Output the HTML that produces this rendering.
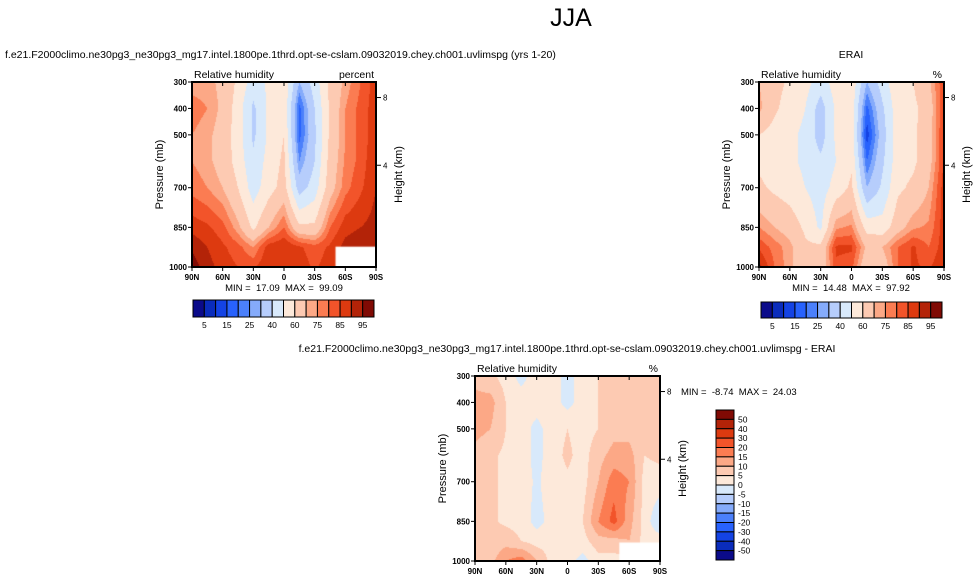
<!DOCTYPE html>
<html><head><meta charset="utf-8">
<style>
body{margin:0;background:#fff;width:979px;height:582px;overflow:hidden;font-family:"Liberation Sans",sans-serif;}
svg text{font-family:"Liberation Sans",sans-serif;fill:#000;white-space:pre;}
</style></head>
<body>
<svg id="s" width="979" height="582" xmlns="http://www.w3.org/2000/svg">
<text x="571" y="26" font-size="25" text-anchor="middle">JJA</text>
<text x="5" y="58" font-size="10.5">f.e21.F2000climo.ne30pg3_ne30pg3_mg17.intel.1800pe.1thrd.opt-se-cslam.09032019.chey.ch001.uvlimspg (yrs 1-20)</text>
<text x="851" y="58" font-size="10.5" text-anchor="middle">ERAI</text>
<text x="567" y="352" font-size="10.5" text-anchor="middle">f.e21.F2000climo.ne30pg3_ne30pg3_mg17.intel.1800pe.1thrd.opt-se-cslam.09032019.chey.ch001.uvlimspg - ERAI</text>
<g id="g"></g>
</svg>
<script>
const lats=['90N','60N','30N','0','30S','60S','90S'];
const plevTicks=[300,400,500,700,850,1000];
const levels=[300,400,500,600,700,850,925,1000];
const rhBounds=[5,10,15,20,25,30,40,50,60,70,75,80,85,90,95];
const rhLabels=['5','15','25','40','60','75','85','95'];
const diffBounds=[-50,-40,-30,-20,-15,-10,-5,0,5,10,15,20,30,40,50];
const diffLabels=['50','40','30','20','15','10','5','0','-5','-10','-15','-20','-30','-40','-50'];
const colors=['#0b0b8a','#0a2cbc','#1443e4','#2862fd','#4b80fb','#85abfb','#b6cdfc','#d8e9fb','#fde9da','#fdcab2','#fca886','#fb7c52','#f2542a','#dd3a10','#b32308','#800a04'];
const modelRH=[
[72,72,68,58,45,52,58,30,45,62,72,80,88],
[78,75,68,55,38,52,58,18,40,62,75,82,88],
[75,72,66,55,38,52,60,18,38,62,75,82,88],
[75,72,66,56,42,54,62,25,40,64,76,82,90],
[78,75,70,60,45,56,64,35,45,66,78,84,90],
[88,86,82,72,58,70,80,62,62,80,88,90,92],
[94,90,86,82,75,88,90,86,82,86,92,94,92],
[98,92,88,85,84,90,88,88,84,88,90,90,90]];
const eraiRH=[
[70,64,58,54,45,55,58,30,45,58,60,68,85],
[72,62,55,50,35,52,56,18,38,56,58,64,86],
[60,56,52,48,35,52,56,12,35,56,58,66,86],
[58,55,52,48,42,50,58,20,38,56,58,66,86],
[62,58,55,50,45,54,62,30,42,58,62,70,88],
[75,70,66,58,48,74,76,56,54,66,74,76,88],
[84,78,72,62,62,86,86,68,70,80,86,80,88],
[92,80,72,62,62,84,82,62,64,80,86,84,90]];
const diffRH=[
[8,6,3,-2,3,3,-2,3,5,8,8,5,8],
[12,12,5,3,3,3,-2,3,5,8,8,5,8],
[12,10,5,3,-2,3,5,3,5,8,8,5,8],
[8,6,4,3,-2,3,6,3,8,12,12,5,6],
[8,6,4,3,-1,3,4,3,10,18,15,3,3],
[8,6,4,3,-2,2,3,5,15,22,12,3,-5],
[5,6,8,5,3,3,3,3,8,8,10,3,3],
[5,8,15,18,10,3,2,-2,3,3,3,3,3]];
const NS='http://www.w3.org/2000/svg';
const G=document.getElementById('g');
function el(t,a,p){const e=document.createElementNS(NS,t);for(const k in a)e.setAttribute(k,a[k]);(p||G).appendChild(e);return e;}
function txt(x,y,s,fs,anchor,p){const e=el('text',{x:x,y:y,'font-size':fs,'text-anchor':anchor||'start'},p);e.textContent=s;return e;}
function interp(grid,fx,p){
  let j=0;while(j<levels.length-2&&p>levels[j+1])j++;
  const ty=Math.max(0,Math.min(1,(p-levels[j])/(levels[j+1]-levels[j])));
  const i=Math.min(11,Math.floor(fx*12));const tx=fx*12-i;
  const a=grid[j][i]*(1-tx)+grid[j][i+1]*tx,b=grid[j+1][i]*(1-tx)+grid[j+1][i+1]*tx;
  return a*(1-ty)+b*ty;}
function bin(v,b){let k=0;while(k<b.length&&v>=b[k])k++;return k;}
function panel(name,x0,y0,w,h,grid,bounds,unit,mask){
  const g=el('g',{});
  
  
  const xs=v=>x0+v*w, ys=p=>y0+(p-300)/700*h;
  const fo=el('foreignObject',{x:x0,y:y0,width:w,height:h},g);
  const c=document.createElement('canvas');c.width=w;c.height=h;fo.appendChild(c);
  
  
  const ctx=c.getContext('2d');
  for(let px=0;px<w;px+=1)for(let py=0;py<h;py+=1){
    const v=interp(grid,(px+0.5)/w,300+(py+0.5)/h*700);
    ctx.fillStyle=colors[bin(v,bounds)];ctx.fillRect(px,py,1,1);}
  if(mask){ctx.fillStyle='#fff';ctx.fillRect(mask[0]*w,mask[1]*h,w-mask[0]*w,h-mask[1]*h);}
  el('rect',{x:x0,y:y0,width:w,height:h,fill:'none',stroke:'#000','stroke-width':2},g);
  plevTicks.forEach(p=>{el('line',{x1:x0-4,x2:x0,y1:ys(p),y2:ys(p),stroke:'#000'},g);
    const t=txt(x0-5,ys(p)+3,String(p),8,'end',g);t.setAttribute('font-weight','bold');});
  lats.forEach((l,i)=>{const x=xs(i/6);el('line',{x1:x,x2:x,y1:y0+h,y2:y0+h+4,stroke:'#000'},g);
    el('line',{x1:x,x2:x,y1:y0,y2:y0+4,stroke:'#000'},g);
    const t=txt(x,y0+h+13,l,8,'middle',g);t.setAttribute('font-weight','bold');});
  [[8,0.084],[4,0.45]].forEach(([k,f])=>{const y=y0+f*h;el('line',{x1:x0+w,x2:x0+w+5,y1:y,y2:y,stroke:'#000'},g);txt(x0+w+7,y+3,String(k),8,'start',g);});
  txt(x0+2,y0-4,'Relative humidity',10.5,'start',g);
  txt(x0+w-2,y0-4,unit,10.5,'end',g);
  const a=txt(0,0,'Pressure (mb)',11,'middle',g);a.setAttribute('transform',`translate(${x0-29},${y0+h/2}) rotate(-90)`);
  const b=txt(0,0,'Height (km)',11,'middle',g);b.setAttribute('transform',`translate(${x0+w+26},${y0+h/2}) rotate(-90)`);
  return g;}
function hbar(name,x0,y0,w,h){const g=el('g',{});
  
  
  const bw=w/16;colors.forEach((c,i)=>el('rect',{x:x0+i*bw,y:y0,width:bw,height:h,fill:c,stroke:'#000','stroke-width':1},g));
  rhLabels.forEach((l,i)=>txt(x0+(2*i+1)*bw,y0+h+11,l,8.5,'middle',g));}
function vbar(name,x0,y0,w,h){const g=el('g',{});
  
  
  const bh=h/16;colors.slice().reverse().forEach((c,i)=>el('rect',{x:x0,y:y0+i*bh,width:w,height:bh,fill:c,stroke:'#000','stroke-width':1},g));
  diffLabels.forEach((l,i)=>txt(x0+w+4,y0+(i+1)*bh+3,l,8.5,'start',g));}
panel('model-panel',192,82,184,185,modelRH,rhBounds,'percent',[0.78,0.89]);
panel('erai-panel',759,82,185,185,eraiRH,rhBounds,'%',null);
panel('diff-panel',475,376,185,185,diffRH,diffBounds,'%',[0.78,0.9]);
txt(284,291,'MIN =  17.09  MAX =  99.09',9.5,'middle');
txt(851,291,'MIN =  14.48  MAX =  97.92',9.5,'middle');
txt(681,395,'MIN =  -8.74  MAX =  24.03',9.5,'start');
hbar('model-colorbar',193,300,181,17);
hbar('erai-colorbar',761,302,181,16);
vbar('diff-colorbar',716,410,18,150);
</script>
</body></html>
